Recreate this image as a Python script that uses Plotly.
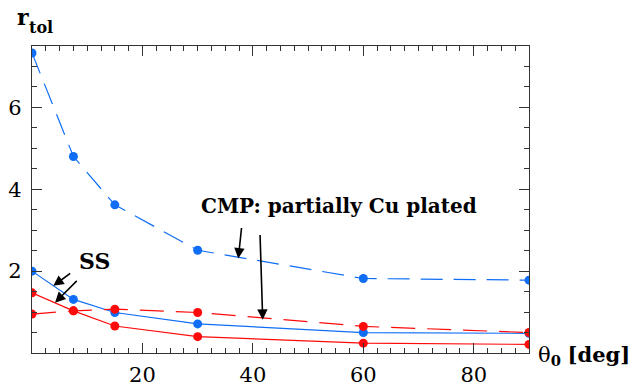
import plotly.graph_objects as go

theta = [0, 7.5, 15, 30, 60, 90]
cmp_blue = [7.33, 4.80, 3.62, 2.51, 1.82, 1.78]
ss_blue = [2.00, 1.31, 0.99, 0.71, 0.50, 0.48]
ss_red = [1.47, 1.03, 0.66, 0.40, 0.24, 0.21]
cmp_red = [0.95, 1.03, 1.07, 0.99, 0.65, 0.50]
x_ticks = [20, 40, 60, 80]
y_ticks = [2, 4, 6]

BLUE = "rgb(15,110,245)"
RED = "rgb(255,10,10)"
FONT = "'DejaVu Serif', serif"

fig = go.Figure()

def add(y, color, dash):
    fig.add_trace(go.Scatter(
        x=theta, y=y, mode="lines+markers",
        line=dict(color=color, width=1.2, dash=dash),
        marker=dict(color=color, size=9),
        cliponaxis=True, showlegend=False, hoverinfo="skip"))

add(cmp_blue, BLUE, "22px,11px")
add(ss_blue, BLUE, "solid")
add(cmp_red, RED, "24px,12px")
add(ss_red, RED, "solid")

W, H = 632, 386
L, R, T, B = 32, 103, 46, 33

def px(xp):
    return (xp - L) / (W - L - R)

def py(yp):
    return (H - B - yp) / (H - T - B)

ann = []
ann.append(dict(x=px(338.5), y=py(206.3), xref="paper", yref="paper",
                text="<b>CMP: partially Cu plated</b>", showarrow=False,
                font=dict(family=FONT, size=20, color="black"),
                xanchor="center", yanchor="middle"))
ann.append(dict(x=px(94.3), y=py(261.3), xref="paper", yref="paper",
                text="<b>SS</b>", showarrow=False,
                font=dict(family=FONT, size=22, color="black"),
                xanchor="center", yanchor="middle"))
ann.append(dict(x=px(15), y=py(17.5), xref="paper", yref="paper",
                text="<b>r</b>", showarrow=False,
                font=dict(family=FONT, size=22, color="black"),
                xanchor="left", yanchor="middle"))
ann.append(dict(x=px(27), y=py(28), xref="paper", yref="paper",
                text="<b>tol</b>", showarrow=False,
                font=dict(family=FONT, size=16, color="black"),
                xanchor="left", yanchor="middle"))
ann.append(dict(x=px(536), y=py(355), xref="paper", yref="paper",
                text="θ<sub><b>0</b></sub> <b>[deg]</b>", showarrow=False,
                font=dict(family=FONT, size=21, color="black"),
                xanchor="left", yanchor="middle"))

arrows = [
    ((3.86, 1.64), (7.19, 1.97)),
    ((4.17, 1.23), (8.38, 1.80)),
    ((37.36, 2.31), (37.97, 3.09)),
    ((41.78, 0.81), (41.29, 2.92)),
]
for (hx, hy), (tx, ty) in arrows:
    ann.append(dict(x=hx, y=hy, ax=tx, ay=ty, xref="x", yref="y",
                    axref="x", ayref="y", text="", showarrow=True,
                    arrowhead=2, arrowsize=1.3, arrowwidth=1.6,
                    arrowcolor="black", standoff=0, startstandoff=0))

axis_common = dict(
    showline=True, linecolor="#333", linewidth=1.3, mirror="ticks",
    ticks="inside", ticklen=10, tickwidth=1.2, tickcolor="#333",
    showgrid=False, zeroline=False, automargin=False,
    tickfont=dict(family=FONT, size=21, color="black"),
)

fig.update_layout(
    width=W, height=H,
    margin=dict(l=L, r=R, t=T, b=B),
    paper_bgcolor="white", plot_bgcolor="white",
    font=dict(family=FONT),
    annotations=ann,
    xaxis=dict(range=[0, 90], tickvals=x_ticks, ticklabelstandoff=3,
               minor=dict(ticks="inside", ticklen=5, tickwidth=1, tickcolor="#333",
                          tick0=0, dtick=2.5, showgrid=False),
               **axis_common),
    yaxis=dict(range=[0, 7.5], tickvals=y_ticks, ticklabelstandoff=5,
               minor=dict(ticks="inside", ticklen=5, tickwidth=1, tickcolor="#333",
                          tick0=0, dtick=0.5, showgrid=False),
               **axis_common),
)

fig.write_html("out.html", config=dict(displayModeBar=False))
